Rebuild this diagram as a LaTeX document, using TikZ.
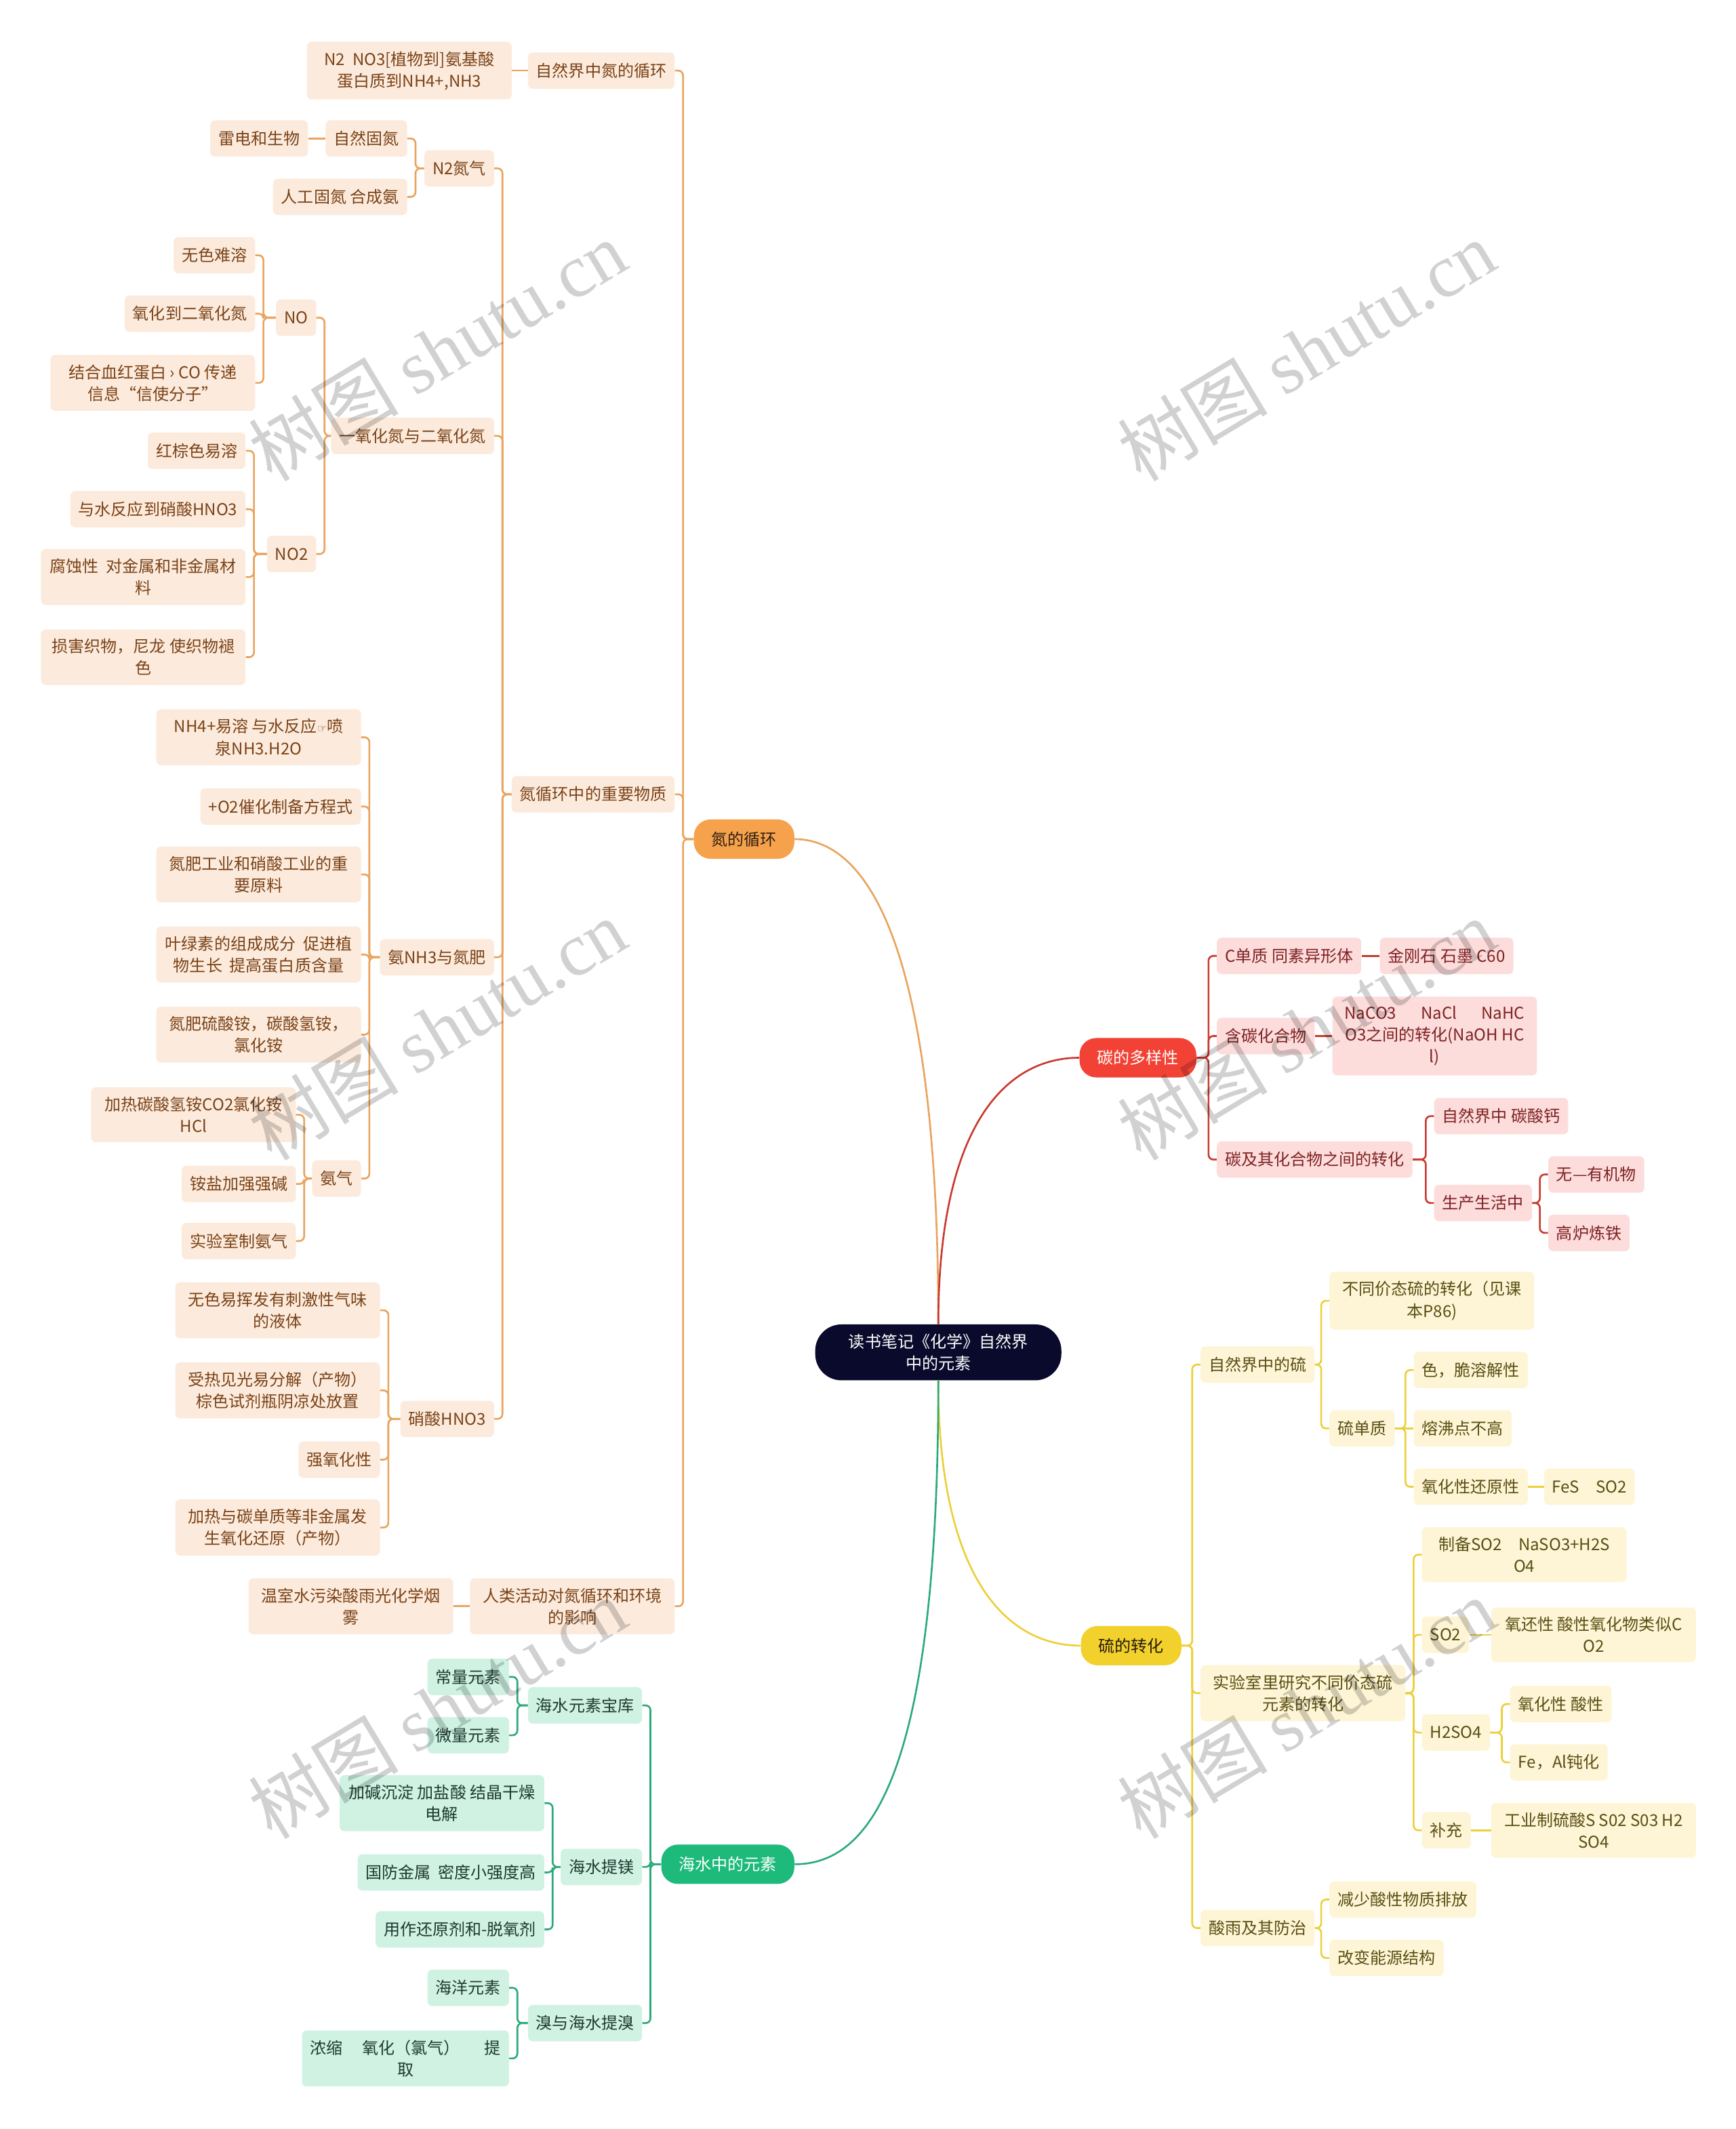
\documentclass[tikz,border=0pt]{standalone}
\usepackage{fontspec}
\setmainfont{Noto Sans CJK SC}
\newfontfamily\dejavu{DejaVu Sans}
\newfontfamily\wmserif{Liberation Serif}
\usetikzlibrary{calc}
\definecolor{nfill}{HTML}{FCEBDC}
\definecolor{ntext}{HTML}{7A4218}
\definecolor{nline}{HTML}{E9A45E}
\definecolor{nmain}{HTML}{F6A24D}
\definecolor{cfill}{HTML}{FDDCDC}
\definecolor{ctext}{HTML}{7E2222}
\definecolor{cline}{HTML}{C93A30}
\definecolor{cmain}{HTML}{F24236}
\definecolor{sfill}{HTML}{FDF5D5}
\definecolor{stext}{HTML}{5A4E14}
\definecolor{sline}{HTML}{EDCF3A}
\definecolor{smain}{HTML}{F2D12D}
\definecolor{gfill}{HTML}{CFF2E3}
\definecolor{gtext}{HTML}{1E3A2E}
\definecolor{gline}{HTML}{2DAA7A}
\definecolor{gmain}{HTML}{1DBA7B}
\definecolor{ctrfill}{HTML}{0A0A2C}
\newcommand\fs{\fontsize{13.66pt}{18.2pt}\selectfont}
\newcommand\edL[3]{\draw[#1] (#2.west) -| ($(#3.east)+(6,0)$) -- (#3.east);}
\newcommand\edR[3]{\draw[#1] (#2.east) -| ($(#3.west)+(-6,0)$) -- (#3.west);}
\newcommand\edSL[3]{\draw[#1] (#2.west) -- (#3.east);}
\newcommand\edSR[3]{\draw[#1] (#2.east) -- (#3.west);}
\tikzset{
  every node/.style={font=\fs},
  bx/.style={rounded corners=4pt, inner xsep=6.8pt, inner ysep=8pt, minimum height=30.5pt, align=center},
  wide/.style={minimum width=171.5pt},
  nb/.style={bx, fill=nfill, text=ntext},
  cb/.style={bx, fill=cfill, text=ctext},
  sb/.style={bx, fill=sfill, text=stext},
  gb/.style={bx, fill=gfill, text=gtext},
  mainbox/.style={rounded corners=14pt, inner xsep=14.8pt, inner ysep=6pt, minimum height=33pt, align=center},
  mainN/.style={mainbox, fill=nmain, text=black!75!brown},
  mainC/.style={mainbox, fill=cmain, text=white},
  mainS/.style={mainbox, fill=smain, text=black!80!brown},
  mainG/.style={mainbox, fill=gmain, text=white},
  ctrbox/.style={rounded corners=22pt, inner xsep=28pt, inner ysep=8pt, align=center, fill=ctrfill, text=white},
  L/.style={anchor=east},
  R/.style={anchor=west},
  ln/.style={line width=1.5pt, rounded corners=4pt},
  nl/.style={ln, draw=nline},
  cl/.style={ln, draw=cline},
  sl/.style={ln, draw=sline},
  gl/.style={ln, draw=gline},
  wm/.style={font=\fontsize{63pt}{63pt}\selectfont, text=black, text opacity=0.18, rotate=31},
}
\begin{document}
\begin{tikzpicture}[x=0.04cm,y=-0.04cm]
\useasboundingbox (0,0) rectangle (1278,1568);
\fill[white] (0,0) rectangle (1278,1568);

% ---------- center ----------
\node[ctrbox] (ctr) at (691,996) {读书笔记《化学》自然界\\中的元素};

% ---------- nitrogen ----------
\node[mainN] (nit) at (548,618) {氮的循环};
\node[nb,L] (n1) at (497,52) {自然界中氮的循环};
\node[nb,L,wide] (n1a) at (377,52) {N2~~NO3[植物到]氨基酸\\蛋白质到NH4+,NH3};
\node[nb,L] (n2) at (497,585) {氮循环中的重要物质};
\node[nb,L,wide] (n3) at (497,1183) {人类活动对氮循环和环境\\的影响};
\node[nb,L,wide] (n3a) at (334,1183) {温室水污染酸雨光化学烟\\雾};
\node[nb,L] (n21) at (364,124) {N2氮气};
\node[nb,L] (n22) at (364,321) {一氧化氮与二氧化氮};
\node[nb,L] (n23) at (364,705) {氨NH3与氮肥};
\node[nb,L] (n24) at (364,1045) {硝酸HNO3};
\node[nb,L] (n211) at (300,102) {自然固氮};
\node[nb,L] (n2111) at (227,102) {雷电和生物};
\node[nb,L] (n212) at (300,145) {人工固氮 合成氨};
\node[nb,L] (no) at (233,234) {NO};
\node[nb,L] (notwo) at (233,408) {NO2};
\node[nb,L] (noa) at (188,188) {无色难溶};
\node[nb,L] (nob) at (188,231) {氧化到二氧化氮};
\node[nb,L,wide] (noc) at (188,282) {结合血红蛋白 › CO 传递\\信息“信使分子”};
\node[nb,L] (ntwa) at (181,332) {红棕色易溶};
\node[nb,L] (ntwb) at (181,375) {与水反应到硝酸HNO3};
\node[nb,L,wide] (ntwc) at (181,425) {腐蚀性~~对金属和非金属材\\料};
\node[nb,L,wide] (ntwd) at (181,484) {损害织物，尼龙 使织物褪\\色};
\node[nb,L,wide] (ama) at (266,543) {NH4+易溶 与水反应{\dejavu\fontsize{9pt}{9pt}\selectfont ☞}喷\\泉NH3.H2O};
\node[nb,L] (amb) at (266,594) {+O2催化制备方程式};
\node[nb,L,wide] (amc) at (266,644) {氮肥工业和硝酸工业的重\\要原料};
\node[nb,L,wide] (amd) at (266,703) {叶绿素的组成成分~~促进植\\物生长~~提高蛋白质含量};
\node[nb,L,wide] (ame) at (266,762) {氮肥硫酸铵，碳酸氢铵，\\氯化铵};
\node[nb,L] (amf) at (266,868) {氨气};
\node[nb,L,wide] (amfa) at (218,821) {加热碳酸氢铵CO2氯化铵\\HCl};
\node[nb,L] (amfb) at (218,872) {铵盐加强强碱};
\node[nb,L] (amfc) at (218,914) {实验室制氨气};
\node[nb,L,wide] (hna) at (280,965) {无色易挥发有刺激性气味\\的液体};
\node[nb,L,wide] (hnb) at (280,1024) {受热见光易分解（产物）\\棕色试剂瓶阴凉处放置};
\node[nb,L] (hnc) at (280,1075) {强氧化性};
\node[nb,L,wide] (hnd) at (280,1125) {加热与碳单质等非金属发\\生氧化还原（产物）};

\edL{nl}{nit}{n1} \edL{nl}{nit}{n2} \edL{nl}{nit}{n3}
\edSL{nl}{n1}{n1a} \edSL{nl}{n3}{n3a}
\edL{nl}{n2}{n21} \edL{nl}{n2}{n22} \edL{nl}{n2}{n23} \edL{nl}{n2}{n24}
\edL{nl}{n21}{n211} \edL{nl}{n21}{n212} \edSL{nl}{n211}{n2111}
\edL{nl}{n22}{no} \edL{nl}{n22}{notwo}
\edL{nl}{no}{noa} \edL{nl}{no}{nob} \edL{nl}{no}{noc}
\edL{nl}{notwo}{ntwa} \edL{nl}{notwo}{ntwb} \edL{nl}{notwo}{ntwc} \edL{nl}{notwo}{ntwd}
\edL{nl}{n23}{ama} \edL{nl}{n23}{amb} \edL{nl}{n23}{amc} \edL{nl}{n23}{amd} \edL{nl}{n23}{ame} \edL{nl}{n23}{amf}
\edL{nl}{amf}{amfa} \edL{nl}{amf}{amfb} \edL{nl}{amf}{amfc}
\edL{nl}{n24}{hna} \edL{nl}{n24}{hnb} \edL{nl}{n24}{hnc} \edL{nl}{n24}{hnd}

% ---------- sea ----------
\node[mainG] (sea) at (536,1373) {海水中的元素};
\node[gb,L] (s1) at (473,1256) {海水元素宝库};
\node[gb,L] (s1a) at (375,1235) {常量元素};
\node[gb,L] (s1b) at (375,1278) {微量元素};
\node[gb,L] (s2) at (473,1375) {海水提镁};
\node[gb,L,wide] (s2a) at (401,1328) {加碱沉淀 加盐酸 结晶干燥\\电解};
\node[gb,L] (s2b) at (401,1379) {国防金属~~密度小强度高};
\node[gb,L] (s2c) at (401,1421) {用作还原剂和-脱氧剂};
\node[gb,L] (s3) at (473,1490) {溴与海水提溴};
\node[gb,L] (s3a) at (375,1464) {海洋元素};
\node[gb,L,wide] (s3b) at (375,1516) {浓缩\hspace{1.2em}氧化（氯气）\hspace{1.5em}提\\取};
\edL{gl}{sea}{s1} \edL{gl}{sea}{s2} \edL{gl}{sea}{s3}
\edL{gl}{s1}{s1a} \edL{gl}{s1}{s1b}
\edL{gl}{s2}{s2a} \edL{gl}{s2}{s2b} \edL{gl}{s2}{s2c}
\edL{gl}{s3}{s3a} \edL{gl}{s3}{s3b}

% ---------- carbon ----------
\node[mainC] (carb) at (838,779) {碳的多样性};
\node[cb,R] (c1) at (896,704) {C单质 同素异形体};
\node[cb,R] (c1a) at (1016,704) {金刚石 石墨 C60};
\node[cb,R] (c2) at (896,763) {含碳化合物};
\node[cb,R,wide] (c2a) at (981,763) {NaCO3\hspace{1.5em}NaCl\hspace{1.5em}NaHC\\O3之间的转化(NaOH HC\\l)};
\node[cb,R] (c3) at (896,854) {碳及其化合物之间的转化};
\node[cb,R] (c31) at (1056,822) {自然界中 碳酸钙};
\node[cb,R] (c32) at (1056,886) {生产生活中};
\node[cb,R] (c32a) at (1140,865) {无—有机物};
\node[cb,R] (c32b) at (1140,908) {高炉炼铁};
\edR{cl}{carb}{c1} \edR{cl}{carb}{c2} \edR{cl}{carb}{c3}
\edSR{cl}{c1}{c1a} \edSR{cl}{c2}{c2a}
\edR{cl}{c3}{c31} \edR{cl}{c3}{c32}
\edR{cl}{c32}{c32a} \edR{cl}{c32}{c32b}

% ---------- sulfur ----------
\node[mainS] (sulf) at (833,1212) {硫的转化};
\node[sb,R] (y1) at (884,1005) {自然界中的硫};
\node[sb,R,wide] (y11) at (979,958) {不同价态硫的转化（见课\\本P86)};
\node[sb,R] (y12) at (979,1052) {硫单质};
\node[sb,R] (y12a) at (1041,1009) {色，脆溶解性};
\node[sb,R] (y12b) at (1041,1052) {熔沸点不高};
\node[sb,R] (y12c) at (1041,1095) {氧化性还原性};
\node[sb,R] (y12d) at (1137,1095) {FeS\hspace{1em}SO2};
\node[sb,R,wide] (y2) at (884,1247) {实验室里研究不同价态硫\\元素的转化};
\node[sb,R,wide] (y21) at (1047,1145) {制备SO2\hspace{1em}NaSO3+H2S\\O4};
\node[sb,R] (y22) at (1047,1204) {SO2};
\node[sb,R,wide] (y22a) at (1098,1204) {氧还性 酸性氧化物类似C\\O2};
\node[sb,R] (y23) at (1047,1276) {H2SO4};
\node[sb,R] (y23a) at (1112,1255) {氧化性 酸性};
\node[sb,R] (y23b) at (1112,1298) {Fe，Al钝化};
\node[sb,R] (y24) at (1047,1348) {补充};
\node[sb,R,wide] (y24a) at (1098,1348) {工业制硫酸S S02 S03 H2\\SO4};
\node[sb,R] (y3) at (884,1420) {酸雨及其防治};
\node[sb,R] (y3a) at (979,1399) {减少酸性物质排放};
\node[sb,R] (y3b) at (979,1442) {改变能源结构};
\edR{sl}{sulf}{y1} \edR{sl}{sulf}{y2} \edR{sl}{sulf}{y3}
\edR{sl}{y1}{y11} \edR{sl}{y1}{y12}
\edR{sl}{y12}{y12a} \edSR{sl}{y12}{y12b} \edR{sl}{y12}{y12c}
\edSR{sl}{y12c}{y12d}
\edR{sl}{y2}{y21} \edR{sl}{y2}{y22} \edR{sl}{y2}{y23} \edR{sl}{y2}{y24}
\edSR{sl}{y22}{y22a} \edSR{sl}{y24}{y24a}
\edR{sl}{y23}{y23a} \edR{sl}{y23}{y23b}
\edR{sl}{y3}{y3a} \edR{sl}{y3}{y3b}

% ---------- main curves ----------
\draw[nline, line width=1.5pt] (ctr.north) .. controls (691,700) and (640,618) .. (nit.east);
\draw[cline, line width=1.5pt] (ctr.north) .. controls (691,830) and (740,779) .. (carb.west);
\draw[sline, line width=1.5pt] (ctr.south) .. controls (691,1160) and (740,1212) .. (sulf.west);
\draw[gline, line width=1.5pt] (ctr.south) .. controls (691,1310) and (640,1373) .. (sea.east);

% ---------- watermarks ----------
\node[wm] (wm1) at (322,258) {树图 {\wmserif shutu.cn}};
\node[wm] (wm2) at (962,258) {树图 {\wmserif shutu.cn}};
\node[wm] (wm3) at (322,758) {树图 {\wmserif shutu.cn}};
\node[wm] (wm4) at (962,758) {树图 {\wmserif shutu.cn}};
\node[wm] (wm5) at (322,1258) {树图 {\wmserif shutu.cn}};
\node[wm] (wm6) at (962,1258) {树图 {\wmserif shutu.cn}};
\end{tikzpicture}
\end{document}
